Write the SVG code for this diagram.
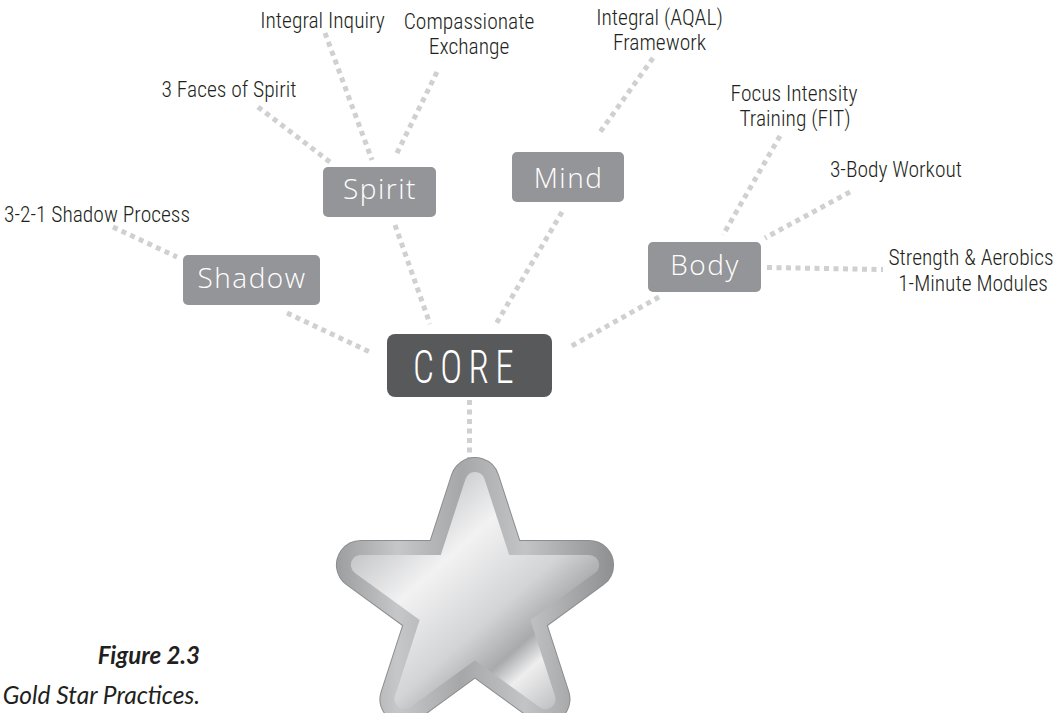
<svg xmlns="http://www.w3.org/2000/svg" width="1060" height="713" viewBox="0 0 1060 713">
  <style>
    .link { stroke: #cfd0d1; stroke-width: 5; stroke-dasharray: 5 4.5; fill: none; }
    .box { fill: #949598; }
    .boxtxt { font-family: "Open Sans", "DejaVu Sans", sans-serif; font-weight: 300; font-size: 28px; letter-spacing: 1.5px; fill: #ffffff; text-anchor: middle; }
    .lbl { font-family: "Roboto Condensed", "Liberation Sans Narrow", "DejaVu Sans Condensed", "Liberation Sans", sans-serif; font-weight: 300; font-size: 21.5px; fill: #231f20; text-anchor: middle; }
    .cap { font-family: "Lato", "Liberation Sans", sans-serif; font-style: italic; fill: #231f20; text-anchor: end; }
  </style>
  <defs>
    <path id="starShape" d="M475,482 L501.9,564.9 L589.1,564.9 L518.6,616.2 L545.5,699.1 L475,647.8 L404.5,699.1 L431.4,616.2 L360.9,564.9 L448.1,564.9 Z"/>
    <linearGradient id="rimGrad" x1="337" y1="0" x2="613" y2="0" gradientUnits="userSpaceOnUse">
      <stop offset="0" stop-color="#9d9ea0"/>
      <stop offset="0.22" stop-color="#c6c7c9"/>
      <stop offset="0.45" stop-color="#a6a7a9"/>
      <stop offset="0.68" stop-color="#c3c4c6"/>
      <stop offset="1" stop-color="#8f9092"/>
    </linearGradient>
    <linearGradient id="faceGrad" x1="400" y1="520" x2="560" y2="700" gradientUnits="userSpaceOnUse">
      <stop offset="0" stop-color="#c9cacb"/>
      <stop offset="0.25" stop-color="#f2f2f3"/>
      <stop offset="0.55" stop-color="#d3d4d5"/>
      <stop offset="0.72" stop-color="#a9aaac"/>
      <stop offset="0.82" stop-color="#eeeeef"/>
      <stop offset="1" stop-color="#c2c3c4"/>
    </linearGradient>
  </defs>

  <rect width="1060" height="713" fill="#ffffff"/>

  <!-- dotted connectors -->
  <g id="connectors">
    <line class="link" x1="113" y1="227" x2="177" y2="257"/>
    <line class="link" x1="287" y1="313" x2="372" y2="353"/>
    <line class="link" x1="258" y1="107" x2="330" y2="162"/>
    <line class="link" x1="325" y1="33" x2="372" y2="160"/>
    <line class="link" x1="437" y1="72" x2="395" y2="157"/>
    <line class="link" x1="395" y1="225" x2="430" y2="324"/>
    <line class="link" x1="653" y1="58" x2="598" y2="135"/>
    <line class="link" x1="562" y1="212" x2="496" y2="324"/>
    <line class="link" x1="780" y1="136" x2="723" y2="235"/>
    <line class="link" x1="850" y1="192" x2="765" y2="238"/>
    <line class="link" x1="767" y1="267.5" x2="883" y2="269.5"/>
    <line class="link" x1="659" y1="297" x2="568" y2="348"/>
    <line class="link" x1="469.5" y1="400" x2="469.5" y2="458"/>
  </g>

  <!-- star -->
  <g id="star">
    <use href="#starShape" fill="#8c8d8f" stroke="#8c8d8f" stroke-width="50" stroke-linejoin="round"/>
    <use href="#starShape" fill="url(#rimGrad)" stroke="url(#rimGrad)" stroke-width="48" stroke-linejoin="round"/>
    <use href="#starShape" fill="url(#faceGrad)" stroke="url(#faceGrad)" stroke-width="20" stroke-linejoin="round"/>
  </g>

  <g id="core">
    <rect x="387" y="334" width="165" height="63" rx="8" fill="#58595b"/>
    <text x="413" y="383" textLength="107" lengthAdjust="spacingAndGlyphs" style="font-family: 'Roboto Condensed', 'Liberation Sans Narrow', 'Liberation Sans', sans-serif; font-weight: 300; font-size: 47px; letter-spacing: 8px; fill: #ffffff;">CORE</text>
  </g>

  <g id="shadow">
    <rect class="box" x="183" y="255" width="137" height="50" rx="5"/>
    <text class="boxtxt" x="252" y="288">Shadow</text>
  </g>
  <g id="spirit">
    <rect class="box" x="323" y="167" width="113" height="50" rx="5"/>
    <text class="boxtxt" x="380" y="199">Spirit</text>
  </g>
  <g id="mind">
    <rect class="box" x="512" y="152" width="112" height="50" rx="5"/>
    <text class="boxtxt" x="568.5" y="188">Mind</text>
  </g>
  <g id="body">
    <rect class="box" x="648" y="242" width="113" height="50" rx="5"/>
    <text class="boxtxt" x="705" y="275">Body</text>
  </g>

  <g id="shadow-process"><text class="lbl" x="97" y="222">3-2-1 Shadow Process</text></g>
  <g id="faces-of-spirit"><text class="lbl" x="229" y="97">3 Faces of Spirit</text></g>
  <g id="integral-inquiry"><text class="lbl" x="322.5" y="28">Integral Inquiry</text></g>
  <g id="compassionate-exchange">
    <text class="lbl" x="469" y="29">Compassionate</text>
    <text class="lbl" x="469" y="54">Exchange</text>
  </g>
  <g id="aqal-framework">
    <text class="lbl" x="659.5" y="25">Integral (AQAL)</text>
    <text class="lbl" x="659.5" y="50">Framework</text>
  </g>
  <g id="fit">
    <text class="lbl" x="794" y="101">Focus Intensity</text>
    <text class="lbl" x="795" y="126">Training (FIT)</text>
  </g>
  <g id="three-body"><text class="lbl" x="896" y="177">3-Body Workout</text></g>
  <g id="modules">
    <text class="lbl" x="971" y="265">Strength &amp; Aerobics</text>
    <text class="lbl" x="973" y="291">1-Minute Modules</text>
  </g>

  <g id="caption">
    <text class="cap" x="200" y="664" style="font-size: 24px; font-weight: bold;">Figure 2.3</text>
    <text class="cap" x="200" y="704" style="font-size: 24.5px;">Gold Star Practices.</text>
  </g>
</svg>
